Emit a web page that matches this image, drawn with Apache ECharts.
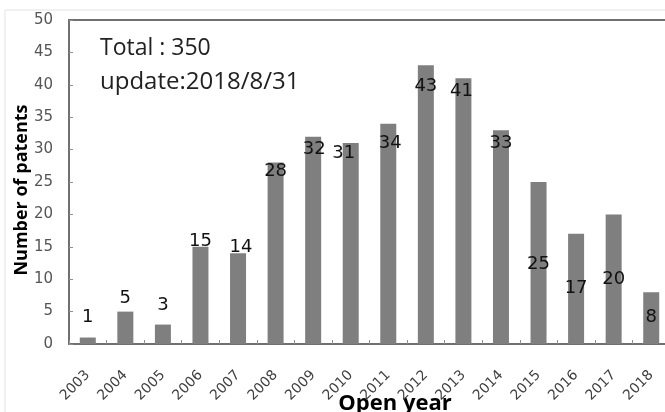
<!DOCTYPE html>
<html>
<head>
<meta charset="utf-8">
<script src="https://cdn.jsdelivr.net/npm/echarts@6/dist/echarts.min.js"></script>
<style>
  html, body { margin: 0; padding: 0; background: #fff; }
  #chart { width: 665px; height: 412px; }
</style>
</head>
<body>
<div id="chart"></div>
<script>
// Patents per opening year
const years = ['2003','2004','2005','2006','2007','2008','2009','2010',
               '2011','2012','2013','2014','2015','2016','2017','2018'];
const patents = [1, 5, 3, 15, 14, 28, 32, 31, 34, 43, 41, 33, 25, 17, 20, 8];
const yTicks = [0, 5, 10, 15, 20, 25, 30, 35, 40, 45, 50];
const totalText = 'Total : 350';
const updateText = 'update:2018/8/31';
const yTitle = 'Number of patents';
const xTitle = 'Open year';

// Where each value label sits relative to the top of its bar: [dx, dy]
const labelShift = [
  [0, -6], [0, 1], [0, -5], [0, 9], [3, 8], [0, 23], [1, 27], [-7, 24],
  [2, 34], [0, 35], [-2, 27], [0, 27], [0, 96], [0, 68], [0, 79], [0, 39]
];

const FONT = 'DejaVu Sans';
const TFONT = 'Open Sans';
const chart = echarts.init(document.getElementById('chart'));

chart.setOption({
  animation: false,
  backgroundColor: '#fff',
  grid: {
    left: 69, top: 20, width: 601, height: 324,
    containLabel: false, outerBoundsMode: 'none',
    show: true, borderColor: '#707070', borderWidth: 2, backgroundColor: 'transparent'
  },
  xAxis: {
    type: 'category',
    data: years,
    axisLine: { lineStyle: { color: '#707070', width: 2 } },
    axisTick: { show: true, inside: true, length: 4, lineStyle: { color: '#909090' } },
    axisLabel: {
      rotate: 45, margin: 29, color: '#404040',
      fontFamily: FONT, fontSize: 14
    }
  },
  yAxis: {
    type: 'value',
    min: yTicks[0], max: yTicks[yTicks.length - 1], interval: yTicks[1] - yTicks[0],
    axisLine: { show: true, lineStyle: { color: '#707070', width: 2 } },
    axisTick: { show: true, inside: true, length: 4, lineStyle: { color: '#909090' } },
    axisLabel: { margin: 16, color: '#555', fontFamily: FONT, fontSize: 15 },
    splitLine: { show: false }
  },
  graphic: [
    {
      type: 'rect', silent: true, z: -1,
      shape: { x: 5, y: 10, width: 700, height: 420 },
      style: { fill: 'none', stroke: '#e3e3e3', lineWidth: 1 }
    },
    {
      type: 'text', x: 100, y: 48,
      style: {
        text: totalText, font: '23px "' + TFONT + '"', fill: '#222',
        textVerticalAlign: 'middle'
      }
    },
    {
      type: 'text', x: 100, y: 82,
      style: {
        text: updateText, font: '24px "' + TFONT + '"', fill: '#222',
        textVerticalAlign: 'middle'
      }
    },
    {
      type: 'text', x: 22, y: 190, rotation: Math.PI / 2,
      style: {
        text: yTitle, font: 'bold 18px "' + TFONT + '"', fill: '#000',
        textAlign: 'center', textVerticalAlign: 'middle'
      }
    },
    {
      type: 'text', x: 395, y: 404,
      style: {
        text: xTitle, font: 'bold 22px "' + TFONT + '"', fill: '#000',
        textAlign: 'center', textVerticalAlign: 'middle'
      }
    }
  ],
  series: [{
    type: 'bar',
    barWidth: 16,
    itemStyle: { color: '#7f7f7f' },
    data: patents.map((v, i) => ({
      value: v,
      label: { offset: labelShift[i] }
    })),
    label: {
      show: true, position: 'top', distance: 5,
      color: '#111', fontFamily: FONT, fontSize: 18
    }
  }]
});
</script>
</body>
</html>
